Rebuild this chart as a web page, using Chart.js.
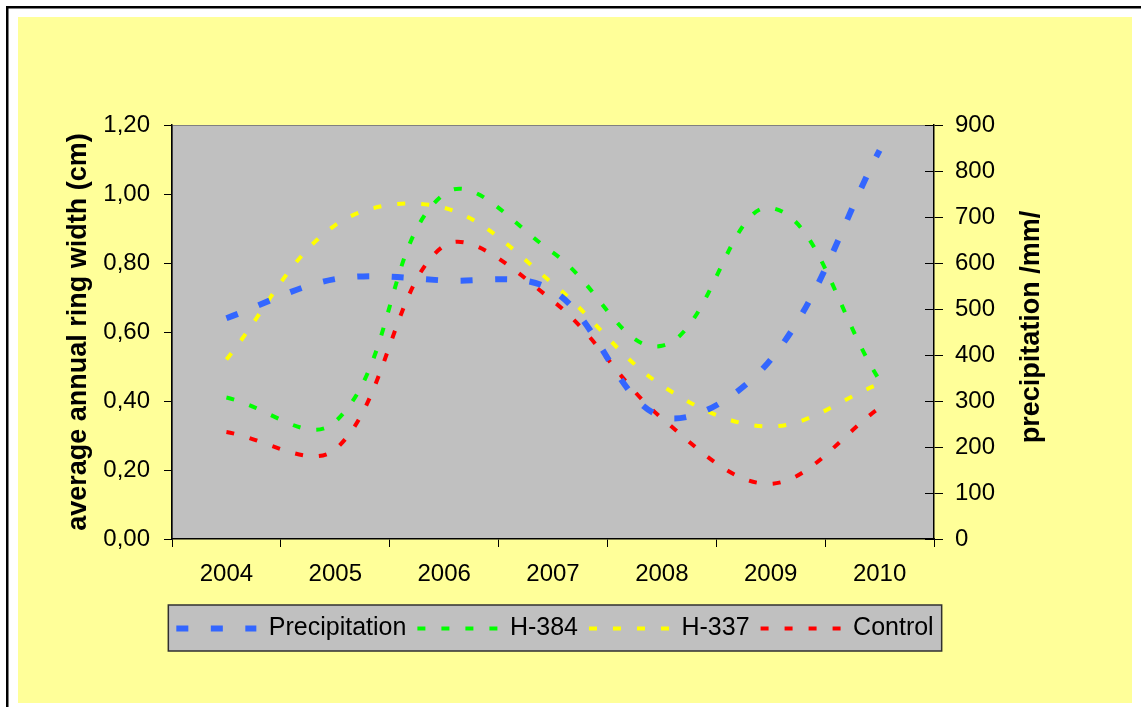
<!DOCTYPE html>
<html><head><meta charset="utf-8">
<script src="https://cdn.jsdelivr.net/npm/chart.js@4/dist/chart.umd.min.js"></script>
<style>html,body{margin:0;padding:0;background:#fff;}#wrap{width:1141px;height:707px;}</style>
</head><body><div id="wrap"><canvas id="c" width="1141" height="707"></canvas></div>
<script>
const years = ['2004','2005','2006','2007','2008','2009','2010'];
const precipitation = [480, 565, 562, 540, 266, 390, 845];
const h384 = [0.41, 0.34, 1.00, 0.83, 0.56, 0.96, 0.46];
const h337 = [0.52, 0.91, 0.96, 0.74, 0.445, 0.326, 0.45];
const control = [0.31, 0.26, 0.85, 0.69, 0.35, 0.16, 0.38];
const leftTickLabels = ['0,00','0,20','0,40','0,60','0,80','1,00','1,20'];
const rightTickLabels = ['0','100','200','300','400','500','600','700','800','900'];
const leftTitle = 'average annual ring width (cm)';
const rightTitle = 'precipitation /mm/';

const FONT = "'Liberation Sans', Arial, sans-serif";

const decor = {
  id: 'decor',
  beforeDraw(chart) {
    const ctx = chart.ctx, a = chart.chartArea;
    ctx.save();
    ctx.fillStyle = '#fff'; ctx.fillRect(0, 0, chart.width, chart.height);
    ctx.fillStyle = '#000';
    ctx.fillRect(6, 6, 2.5, chart.height - 6);
    ctx.fillRect(6, 6, chart.width - 6, 2.5);
    ctx.fillStyle = '#FFFF99';
    ctx.fillRect(18, 17, 1114, 686);
    ctx.fillStyle = '#C0C0C0';
    ctx.fillRect(a.left, a.top, a.right - a.left, a.bottom - a.top);
    ctx.strokeStyle = '#808080'; ctx.lineWidth = 1;
    ctx.strokeRect(a.left + 0.5, a.top + 0.5, a.right - a.left - 1, a.bottom - a.top - 1);
    const lg = chart.legend;
    if (lg && lg.legendHitBoxes && lg.legendHitBoxes.length) {
      const hb = lg.legendHitBoxes;
      const l = Math.min(...hb.map(h => h.left)) - 8;
      const r = Math.max(...hb.map(h => h.left + h.width)) + 8;
      ctx.fillStyle = '#C0C0C0';
      ctx.fillRect(l, lg.top, r - l, lg.bottom - lg.top);
      ctx.strokeStyle = '#303030'; ctx.lineWidth = 1.5;
      ctx.strokeRect(l, lg.top, r - l, lg.bottom - lg.top);
    }
    ctx.restore();
  },
  afterDraw(chart) {
    const ctx = chart.ctx, s = chart.scales.y1, a = chart.chartArea;
    ctx.save();
    ctx.strokeStyle = '#000'; ctx.lineWidth = 1;
    s.ticks.forEach((t, i) => {
      const y = Math.round(s.getPixelForTick(i)) + 0.5;
      ctx.beginPath(); ctx.moveTo(a.right - 9, y); ctx.lineTo(a.right, y); ctx.stroke();
    });
    ctx.translate(1032, (a.top + a.bottom) / 2 - 5);
    ctx.rotate(-Math.PI / 2);
    ctx.fillStyle = '#000';
    ctx.font = "bold 27px " + FONT;
    ctx.textAlign = 'center'; ctx.textBaseline = 'middle';
    ctx.fillText(rightTitle, 0, 0);
    ctx.restore();
  }
};

const lineDs = (label, data, color, width, dash, axis, tension) => ({
  label, data, borderColor: color, backgroundColor: color, borderWidth: width,
  borderDash: dash, borderCapStyle: 'butt', pointRadius: 0, pointHoverRadius: 0,
  tension: tension, fill: false, yAxisID: axis
});

new Chart(document.getElementById('c'), {
  type: 'line',
  data: {
    labels: years,
    datasets: [
      lineDs('Precipitation', precipitation, '#3366FF', 6, [12, 22.5], 'y1', 0.35),
      lineDs('H-384', h384, '#00FF00', 4, [8, 16], 'y', 0.4),
      lineDs('H-337', h337, '#FFFF00', 4, [8, 16], 'y', 0.35),
      lineDs('Control', control, '#FF0000', 4, [8, 16], 'y', 0.35)
    ]
  },
  options: {
    responsive: false, animation: false, devicePixelRatio: 1,
    layout: { padding: { left: 56, top: 125, right: 87, bottom: 56 } },
    plugins: {
      tooltip: { enabled: false },
      legend: {
        position: 'bottom',
        labels: {
          usePointStyle: true, pointStyle: 'line', pointStyleWidth: 80,
          font: { family: FONT, size: 25 }, color: '#000', padding: 11,
          generateLabels(chart) {
            const items = Chart.defaults.plugins.legend.labels.generateLabels(chart);
            items.forEach(it => {
              const ds = chart.data.datasets[it.datasetIndex];
              it.lineDash = ds.borderDash;
              it.lineCap = 'butt';
              it.lineWidth = ds.borderWidth;
              it.strokeStyle = ds.borderColor;
            });
            return items;
          }
        }
      }
    },
    scales: {
      x: {
        type: 'category', offset: true,
        grid: { display: true, drawOnChartArea: false, drawTicks: true, tickLength: 8, color: '#000', offset: true },
        border: { display: true, color: '#000', width: 1.5 },
        ticks: { font: { family: FONT, size: 24 }, color: '#000', padding: 13, maxRotation: 0 },
        afterFit(s) { s.height = 66; }
      },
      y: {
        position: 'left', min: 0, max: 1.2,
        grid: { drawOnChartArea: false, drawTicks: true, tickLength: 8, color: '#000' },
        border: { display: true, color: '#000', width: 1.5 },
        ticks: { stepSize: 0.2, font: { family: FONT, size: 24 }, color: '#000', padding: 14,
          callback: (v, i) => leftTickLabels[i] },
        title: { display: true, text: leftTitle, font: { family: FONT, size: 27, weight: 'bold' }, color: '#000', padding: { top: 6, bottom: 0 } },
        afterFit(s) { s.width = 116; }
      },
      y1: {
        position: 'right', min: 0, max: 900,
        grid: { drawOnChartArea: false, drawTicks: true, tickLength: 9, color: '#000' },
        border: { display: true, color: '#000', width: 1.5 },
        ticks: { stepSize: 100, font: { family: FONT, size: 24 }, color: '#000', padding: 12,
          callback: (v, i) => rightTickLabels[i] },
        afterFit(s) { s.width = 120; }
      }
    }
  },
  plugins: [decor]
});
</script></body></html>
